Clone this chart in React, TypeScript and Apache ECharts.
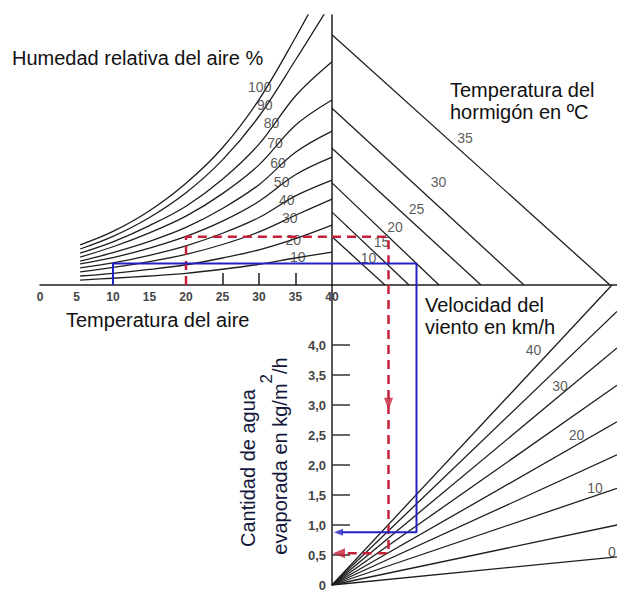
import React, { useEffect, useRef } from "react";
import * as echarts from "echarts";

// Air temperature (°C) at which the relative-humidity curves were read
const airTemps = [5.5, 10, 15, 20, 25, 30, 35, 40];
// Vapour pressure (kPa-like units) of each relative-humidity curve
const rh10 = [0.11, 0.15, 0.2, 0.26, 0.35, 0.46, 0.6, 0.73];
const rh20 = [0.2, 0.26, 0.345, 0.45, 0.6, 0.78, 1.03, 1.33];
const rh30 = [0.29, 0.39, 0.52, 0.68, 0.9, 1.18, 1.55, 1.91];
const rh40 = [0.38, 0.49, 0.66, 0.87, 1.15, 1.5, 1.98, 2.33];
const rh50 = [0.47, 0.61, 0.82, 1.08, 1.42, 1.86, 2.45, 2.84];
const rh60 = [0.53, 0.72, 0.97, 1.28, 1.7, 2.23, 2.95, 3.42];
const rh70 = [0.62, 0.85, 1.16, 1.53, 2.03, 2.67, 3.55, 4.11];
const rh80 = [0.71, 0.96, 1.32, 1.75, 2.35, 3.13, 4.2, 4.96];
const rh90 = [0.8, 1.08, 1.5, 2.05, 2.78, 3.75, 5.0, 6.3];
const rh100 = [0.89, 1.19, 1.65, 2.26, 3.05, 4.12, 5.5, 7.0];
const humidityLevels = [10, 20, 30, 40, 50, 60, 70, 80, 90, 100];
const rhLabelT = [35.3, 34.7, 34.2, 33.8, 33.1, 32.6, 32.2, 31.7, 30.8, 30.1];
const rhLabelE = [0.63, 1.0, 1.49, 1.89, 2.3, 2.71, 3.16, 3.6, 4.0, 4.4];

// Concrete temperature lines (°C): intercept on the vertical scale and on the horizontal scale
const concreteTemps = [10, 15, 20, 25, 30, 35];
const concreteStartE = [1.07, 1.62, 2.27, 3.04, 3.93, 5.56];
const concreteEndX = [1.06, 1.54, 2.14, 2.98, 3.84, 5.56];
const concreteLabelX = [0.73, 0.99, 1.26, 1.69, 2.13, 2.66];
const concreteLabelE = [0.59, 0.96, 1.29, 1.7, 2.3, 3.27];

// Wind speed lines (km/h): end point of each ray from the origin
const windSpeeds = [0, 5, 10, 15, 20, 25, 30, 35, 40];
const windEndX = [5.7, 5.7, 5.7, 5.7, 5.7, 5.7, 5.7, 5.7, 5.6];
const windEndEvap = [0.47, 1.0, 1.61, 2.17, 2.72, 3.33, 3.95, 4.56, 5.0];
const windLabelSpeeds = [0, 10, 20, 30, 40];
const windLabelX = [5.6, 5.26, 4.89, 4.56, 4.03];
const windLabelEvap = [0.55, 1.61, 2.5, 3.31, 3.92];

// Axis ticks / labels
const airTempLabels = [0, 5, 10, 15, 20, 25, 30, 35, 40];
const airTempTicks = [25, 30, 35];
const evapLabels = [0, 0.5, 1, 1.5, 2, 2.5, 3, 3.5, 4];
const evapTicks = [0.5, 1, 1.5, 2, 2.5, 3, 3.5, 4];

// Worked examples: [red, blue]
const exampleAirTemp = [20, 10];
const exampleVapour = [1.07, 0.48];
const exampleDiff = [1.13, 1.69];
const exampleEvap = [0.53, 0.88];
const redArrowEvap = 3.02;

// ---------- styling ----------
const FONT = '"Liberation Sans", Arial, Helvetica, sans-serif';
const INK = "#1e1e1e";
const RED = "#c61f3a";
const BLUE = "#2222c4";
const TITLE = "#111111";

function lineSeries(idx: number, data: number[][], extra: any = {}) {
  return {
    type: "line",
    xAxisIndex: idx,
    yAxisIndex: idx,
    data,
    symbol: "none",
    silent: true,
    lineStyle: { color: INK, width: 1.3 },
    z: 2,
    ...extra,
  };
}

function labelSeries(idx: number, xs: number[], ys: number[], texts: number[], fontSize: number) {
  return {
    type: "scatter",
    xAxisIndex: idx,
    yAxisIndex: idx,
    silent: true,
    symbolSize: 1,
    itemStyle: { color: "rgba(0,0,0,0)" },
    data: xs.map((x, i) => ({ value: [x, ys[i]], name: String(texts[i]) })),
    label: {
      show: true,
      position: "inside",
      formatter: "{b}",
      fontSize,
      color: "#303030",
      fontFamily: FONT,
    },
    z: 6,
  };
}

function arrowSeries(idx: number, x: number, y: number, color: string, size: number[], rotate: number) {
  return {
    type: "scatter",
    xAxisIndex: idx,
    yAxisIndex: idx,
    silent: true,
    symbol: "triangle",
    symbolSize: size,
    symbolRotate: rotate,
    itemStyle: { color },
    data: [[x, y]],
    z: 8,
  };
}

function buildOption() {
  const rhCurves = [rh10, rh20, rh30, rh40, rh50, rh60, rh70, rh80, rh90, rh100];
  const series: any[] = [];

  rhCurves.forEach((curve) => {
    series.push(lineSeries(0, airTemps.map((t, i) => [t, curve[i]]), { smooth: 0.35 }));
  });
  series.push(labelSeries(0, rhLabelT, rhLabelE, humidityLevels, 14));

  concreteTemps.forEach((_, i) => {
    series.push(lineSeries(1, [[0, concreteStartE[i]], [concreteEndX[i], 0]]));
  });
  series.push(labelSeries(1, concreteLabelX, concreteLabelE, concreteTemps, 14));

  windSpeeds.forEach((_, i) => {
    series.push(lineSeries(2, [[0, 0], [windEndX[i], windEndEvap[i]]]));
  });
  series.push(labelSeries(2, windLabelX, windLabelEvap, windLabelSpeeds, 14));

  const pathStyles = [
    { color: RED, width: 2.5, type: [9, 6] },
    { color: BLUE, width: 2, type: "solid" },
  ];
  [0, 1].forEach((k) => {
    const ls = pathStyles[k];
    const extra = { lineStyle: ls, z: 7 };
    series.push(
      lineSeries(0, [
        [exampleAirTemp[k], 0],
        [exampleAirTemp[k], exampleVapour[k]],
        [40, exampleVapour[k]],
      ], extra)
    );
    series.push(
      lineSeries(1, [
        [0, exampleVapour[k]],
        [exampleDiff[k], exampleVapour[k]],
        [exampleDiff[k], 0],
      ], extra)
    );
    series.push(
      lineSeries(2, [
        [exampleDiff[k], 5],
        [exampleDiff[k], exampleEvap[k]],
        [0.2, exampleEvap[k]],
      ], extra)
    );
  });
  series.push(arrowSeries(2, 0.14, exampleEvap[0], RED, [10, 12], 90));
  series.push(arrowSeries(2, 0.13, exampleEvap[1], BLUE, [7, 9], 90));
  series.push(arrowSeries(2, exampleDiff[0], redArrowEvap, RED, [9, 12], 180));

  const axisLineStyle = { color: INK, width: 1.5 };

  return {
    animation: false,
    backgroundColor: "#ffffff",
    textStyle: { fontFamily: FONT },
    grid: [
      { left: 40, top: 15, width: 292, height: 270 },
      { left: 332, top: 15, width: 285, height: 270 },
      { left: 332, top: 285, width: 285, height: 300 },
    ],
    xAxis: [
      {
        gridIndex: 0,
        type: "value",
        min: 0,
        max: 40,
        interval: 5,
        axisLine: { show: true, onZero: false, lineStyle: axisLineStyle },
        axisTick: {
          show: true,
          inside: true,
          length: 12,
          customValues: airTempTicks,
          lineStyle: axisLineStyle,
        },
        axisLabel: {
          show: true,
          customValues: airTempLabels,
          margin: 6,
          fontSize: 12,
          fontWeight: "bold",
          color: "#444",
          fontFamily: FONT,
        },
        splitLine: { show: false },
      },
      {
        gridIndex: 1,
        type: "value",
        min: 0,
        max: 5.7,
        axisLine: { show: true, onZero: false, lineStyle: axisLineStyle },
        axisTick: { show: false },
        axisLabel: { show: false },
        splitLine: { show: false },
      },
      { gridIndex: 2, type: "value", min: 0, max: 5.7, show: false, splitLine: { show: false } },
    ],
    yAxis: [
      { gridIndex: 0, type: "value", min: 0, max: 6, show: false, splitLine: { show: false } },
      {
        gridIndex: 1,
        type: "value",
        min: 0,
        max: 6,
        axisLine: { show: true, onZero: false, lineStyle: axisLineStyle },
        axisTick: { show: false },
        axisLabel: { show: false },
        splitLine: { show: false },
      },
      {
        gridIndex: 2,
        type: "value",
        min: 0,
        max: 5,
        interval: 0.5,
        axisLine: { show: true, onZero: false, lineStyle: axisLineStyle },
        axisTick: {
          show: true,
          inside: true,
          length: 18,
          customValues: evapTicks,
          lineStyle: { color: "#333", width: 1.5 },
        },
        axisLabel: {
          show: true,
          customValues: evapLabels,
          margin: 6,
          fontSize: 13,
          fontWeight: "bold",
          color: "#444",
          fontFamily: FONT,
          formatter: (v: number) => (v === 0 ? "0" : v.toFixed(1).replace(".", ",")),
        },
        splitLine: { show: false },
      },
    ],
    series,
    graphic: [
      {
        type: "text",
        x: 12,
        y: 58,
        silent: true,
        style: {
          text: "Humedad relativa del aire %",
          fill: TITLE,
          font: `20px ${FONT}`,
          align: "left",
          verticalAlign: "middle",
        },
      },
      {
        type: "text",
        x: 450,
        y: 79,
        silent: true,
        style: {
          text: "Temperatura del\nhormigón en ºC",
          fill: TITLE,
          font: `20px ${FONT}`,
          lineHeight: 22,
          align: "left",
          verticalAlign: "top",
        },
      },
      {
        type: "text",
        x: 66,
        y: 320,
        silent: true,
        style: {
          text: "Temperatura del aire",
          fill: TITLE,
          font: `20px ${FONT}`,
          align: "left",
          verticalAlign: "middle",
        },
      },
      {
        type: "text",
        x: 425,
        y: 294,
        silent: true,
        style: {
          text: "Velocidad del\nviento en km/h",
          fill: TITLE,
          font: `20px ${FONT}`,
          lineHeight: 22,
          align: "left",
          verticalAlign: "top",
        },
      },
      {
        type: "text",
        x: 248,
        y: 468,
        rotation: Math.PI / 2,
        silent: true,
        style: {
          text: "Cantidad de agua",
          fill: "#14183a",
          font: `20px ${FONT}`,
          align: "center",
          verticalAlign: "middle",
        },
      },
      {
        type: "text",
        x: 280,
        y: 456,
        rotation: Math.PI / 2,
        silent: true,
        style: {
          text: "evaporada en kg/m{s|2}/h",
          fill: "#14183a",
          font: `20px ${FONT}`,
          lineHeight: 44,
          align: "center",
          verticalAlign: "middle",
          rich: {
            s: {
              fontSize: 17,
              fontFamily: FONT,
              fill: "#14183a",
              lineHeight: 17,
              verticalAlign: "top",
            },
          },
        },
      },
    ],
  };
}

export default function App() {
  const ref = useRef<HTMLDivElement>(null);
  useEffect(() => {
    document.body.style.margin = "0";
    const chart = echarts.init(ref.current as HTMLDivElement, undefined, { renderer: "svg" });
    chart.setOption(buildOption() as any);
    return () => chart.dispose();
  }, []);
  return <div ref={ref} style={{ width: 617, height: 592, background: "#fff" }} />;
}
